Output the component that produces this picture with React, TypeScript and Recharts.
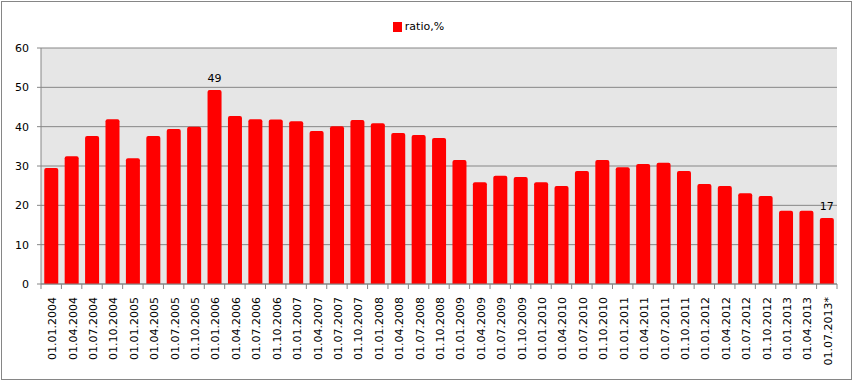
import { BarChart, Bar, XAxis, YAxis, CartesianGrid, Legend, LabelList } from 'recharts';

const dates = [
  '01.01.2004', '01.04.2004', '01.07.2004', '01.10.2004',
  '01.01.2005', '01.04.2005', '01.07.2005', '01.10.2005',
  '01.01.2006', '01.04.2006', '01.07.2006', '01.10.2006',
  '01.01.2007', '01.04.2007', '01.07.2007', '01.10.2007',
  '01.01.2008', '01.04.2008', '01.07.2008', '01.10.2008',
  '01.01.2009', '01.04.2009', '01.07.2009', '01.10.2009',
  '01.01.2010', '01.04.2010', '01.07.2010', '01.10.2010',
  '01.01.2011', '01.04.2011', '01.07.2011', '01.10.2011',
  '01.01.2012', '01.04.2012', '01.07.2012', '01.10.2012',
  '01.01.2013', '01.04.2013', '01.07.2013*',
];

const ratio = [
  29.5, 32.5, 37.6, 41.9,
  32.0, 37.6, 39.4, 40.0,
  49.3, 42.7, 41.9, 41.8,
  41.4, 38.9, 40.1, 41.7,
  40.9, 38.4, 37.9, 37.1,
  31.5, 25.9, 27.5, 27.2,
  25.9, 24.9, 28.7, 31.5,
  29.7, 30.5, 30.8, 28.7,
  25.4, 24.9, 23.1, 22.4,
  18.6, 18.6, 16.8,
];

// only these bars carry a value label
const labelledDates = ['01.01.2006', '01.07.2013*'];

const yTicks = [0, 10, 20, 30, 40, 50, 60];

const data = dates.map((d, i) => ({ date: d, ratio: ratio[i] }));

const W = 853;
const H = 381;
const M = { top: 20, right: 16, bottom: 0, left: 0 };
const Y_W = 41;
const X_H = 97;
const BAND = (W - M.left - M.right - Y_W) / dates.length;
const FONT = '"DejaVu Sans", Verdana, sans-serif';
const GRAY = '#868686';

const XTick = (props: any) => {
  const { x, y, payload, index } = props;
  const ax = x + 5;
  const ay = y + 13;
  return (
    <g>
      <line x1={x - BAND / 2} x2={x - BAND / 2} y1={y} y2={y + 5} stroke={GRAY} />
      {index === dates.length - 1 && (
        <line x1={x + BAND / 2} x2={x + BAND / 2} y1={y} y2={y + 5} stroke={GRAY} />
      )}
      <text
        x={ax}
        y={ay}
        transform={`rotate(-90 ${ax} ${ay})`}
        textAnchor="end"
        fontSize={11}
        fontFamily={FONT}
        fill="#000"
      >
        {payload.value}
      </text>
    </g>
  );
};

const LegendBox = () => (
  <div style={{ display: 'flex', justifyContent: 'center', alignItems: 'center', fontFamily: FONT, fontSize: 11, color: '#000' }}>
    <span style={{ display: 'inline-block', width: 9, height: 10, background: '#ff0000', marginRight: 3 }} />
    <span>ratio,%</span>
  </div>
);

const ValueLabel = (props: any) => {
  const { x, y, width, value, index } = props;
  if (!labelledDates.includes(dates[index])) return null;
  return (
    <text x={x + width / 2} y={y - 8} textAnchor="middle" fontSize={11} fontFamily={FONT} fill="#000">
      {Math.round(value)}
    </text>
  );
};

export default function App() {
  return (
    <div style={{ position: 'absolute', left: 0, top: 0, width: W, height: H, background: '#fff' }}>
      <div
        style={{
          position: 'absolute', left: 1, top: 1, width: 851, height: 379,
          boxSizing: 'border-box', border: `1px solid ${GRAY}`, pointerEvents: 'none',
        }}
      />
      <BarChart width={W} height={H} data={data} margin={M} barCategoryGap="16%">
        <Legend verticalAlign="top" align="center" height={28} content={<LegendBox />} />
        <CartesianGrid vertical={false} fill="#e6e6e6" stroke={GRAY} strokeOpacity={1} />
        <XAxis
          dataKey="date"
          interval={0}
          height={X_H}
          tickSize={0}
          tickMargin={0}
          tick={<XTick />}
          axisLine={{ stroke: GRAY }}
          tickLine={false}
        />
        <YAxis
          width={Y_W}
          domain={[0, 60]}
          ticks={yTicks}
          interval={0}
          tickSize={4}
          tickMargin={8}
          axisLine={{ stroke: GRAY }}
          tickLine={{ stroke: GRAY }}
          tick={{ fontSize: 11, fontFamily: FONT, fill: '#000' }}
        />
        <Bar dataKey="ratio" fill="#ff0000" radius={[2, 2, 0, 0]} isAnimationActive={false}>
          <LabelList dataKey="ratio" content={<ValueLabel />} />
        </Bar>
      </BarChart>
    </div>
  );
}
